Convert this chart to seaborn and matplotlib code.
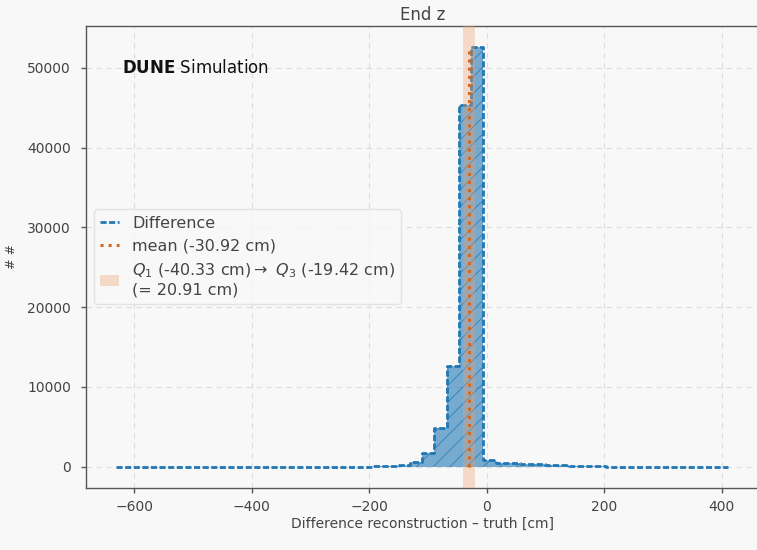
import numpy as np
import pandas as pd
import matplotlib
matplotlib.use("Agg")
import matplotlib.pyplot as plt
import seaborn as sns
from matplotlib.lines import Line2D
from matplotlib.patches import Patch

# ---- data ----
x_min, x_max, n_bins = -631.0, 411.0, 50
counts = [3, 2, 4, 3, 5, 4, 6, 5, 7, 6,
          8, 9, 10, 10, 12, 12, 14, 15, 18, 20,
          25, 40, 90, 250, 650, 1720, 4860, 12600, 45400, 52650,
          900, 470, 450, 360, 320, 200, 160, 140, 110, 60,
          25, 20, 18, 15, 12, 10, 8, 6, 5, 4]
mean_val = -30.92
q1_val = -40.33
q3_val = -19.42
title = "End z"
xlabel = "Difference reconstruction – truth [cm]"
ylabel = "# #"
yticks = [0, 10000, 20000, 30000, 40000, 50000]
xticks = [-600, -400, -200, 0, 200, 400]

edges = np.linspace(x_min, x_max, n_bins + 1)
centers = 0.5 * (edges[:-1] + edges[1:])
df = pd.DataFrame({"diff": centers, "n": counts})

sns.set_theme(style="whitegrid")
plt.rcParams["font.family"] = ["DejaVu Sans"]
plt.rcParams["hatch.linewidth"] = 0.5

bg = "#f8f8f8"
fig = plt.figure(figsize=(7.57, 5.5), dpi=100, facecolor=bg)
ax = fig.add_axes([85.7 / 757, 1 - 487.7 / 550, (758.7 - 85.7) / 757, (487.7 - 25.7) / 550])
ax.set_facecolor(bg)

blue = "#1f77b4"
orange = "#d2691e"
dash = (0, (2.2, 0.9))

sns.histplot(data=df, x="diff", weights="n", bins=n_bins, binrange=(x_min, x_max),
             element="step", fill=True,
             color=blue, alpha=0.6, linewidth=0, edgecolor=blue, hatch="//", ax=ax)
sns.histplot(data=df, x="diff", weights="n", bins=n_bins, binrange=(x_min, x_max),
             element="step", fill=False,
             color=blue, linewidth=2.0, linestyle=dash, ax=ax)

ax.axvspan(q1_val, q3_val, color="#f0a070", alpha=0.35, lw=0, zorder=3)
ax.vlines(mean_val, 0, max(counts), color=orange, linestyle=":", linewidth=2.2, zorder=4)

ax.set_xlim(x_min - 0.05 * (x_max - x_min), x_max + 0.05 * (x_max - x_min))
ax.set_ylim(-0.05 * max(counts), 1.05 * max(counts))
ax.set_xticks(xticks)
ax.set_xticklabels([str(t).replace("-", "\u2212") for t in xticks])
ax.set_yticks(yticks)
ax.set_yticklabels([str(t) for t in yticks])

ax.grid(True, linestyle=(0, (5, 4)), color="#dddddd", linewidth=0.8)
for s in ["left", "top", "bottom"]:
    ax.spines[s].set_visible(True)
    ax.spines[s].set_color("#555555")
    ax.spines[s].set_linewidth(1.0)
ax.spines["right"].set_visible(False)
ax.tick_params(axis="both", which="major", length=3.5, width=1, color="#555555",
               labelsize=10, labelcolor="#444444", direction="out", bottom=True, left=True)
ax.tick_params(axis="y", pad=7)
ax.tick_params(axis="x", pad=5.5)

ax.set_title(title, fontsize=12, color="#444444", pad=4)
ax.set_xlabel(xlabel, fontsize=10, color="#444444", labelpad=2)
ax.set_ylabel(ylabel, fontsize=9, color="#444444")
ax.yaxis.set_label_coords(-0.1, 0.5)

ax.text(0.054, 0.908, r"$\bf{DUNE}$ Simulation", transform=ax.transAxes,
        fontsize=12, color="#111111", va="center", ha="left")

handles = [
    Line2D([0], [0], color=blue, linestyle=dash, linewidth=2.0),
    Line2D([0], [0], color=orange, linestyle=":", linewidth=2.2),
    Patch(facecolor="#f0a070", alpha=0.35, edgecolor="none"),
]
labels = [
    "Difference",
    f"mean ({mean_val:.2f} cm)",
    f"$Q_1$ ({q1_val:.2f} cm)$\\rightarrow$ $Q_3$ ({q3_val:.2f} cm)\n(= {q3_val - q1_val:.2f} cm)",
]
leg = ax.legend(handles, labels, loc="center left", bbox_to_anchor=(0.0, 0.5),
                fontsize=11.5, frameon=True, handlelength=1.2, labelcolor="#444444")
leg.get_frame().set_facecolor("#f8f8f8")
leg.get_frame().set_edgecolor("#dddddd")

fig.savefig("out.png", dpi=100, facecolor=bg)
